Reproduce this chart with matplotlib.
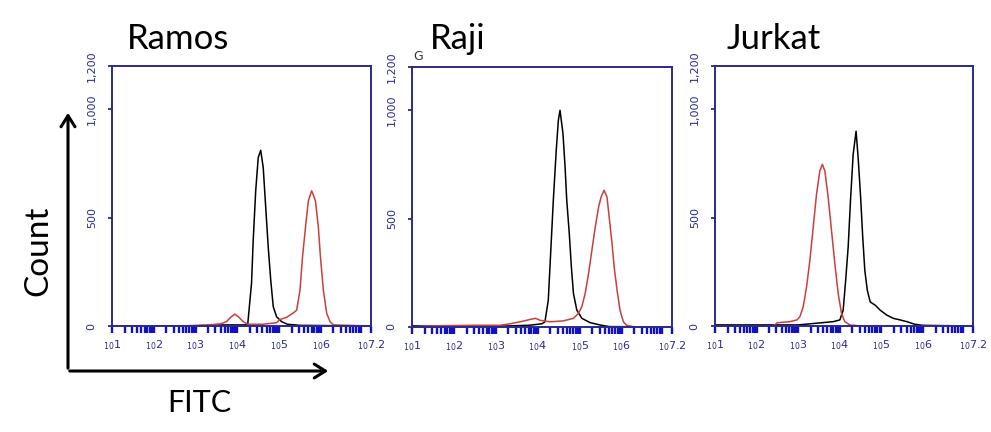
import numpy as np
import matplotlib
matplotlib.use("Agg")
import matplotlib.pyplot as plt
from matplotlib.ticker import LogLocator, FixedLocator, NullFormatter

# ---- data (log10 FITC, count) ----
panels = ["Ramos", "Raji", "Jurkat"]

ramos_black_logx = [1.0, 2.9, 3.5, 4.2, 4.25, 4.34, 4.38, 4.44, 4.50, 4.56, 4.62, 4.68, 4.74, 4.80, 4.86, 4.94, 5.06, 5.2, 5.5, 7.2]
ramos_black_cnt = [0, 0, 5, 5, 10, 197, 394, 624, 777, 811, 731, 547, 364, 211, 89, 43, 20, 8, 3, 0]
ramos_red_logx = [1.0, 2.6, 3.3, 3.6, 3.74, 3.84, 3.94, 4.04, 4.14, 4.25, 4.6, 4.94, 5.02, 5.10, 5.18, 5.26, 5.34, 5.42, 5.50, 5.56, 5.64, 5.70, 5.78, 5.87, 5.94, 5.99, 6.06, 6.14, 6.22, 6.3, 7.2]
ramos_red_cnt = [0, 0, 5, 10, 20, 40, 55, 40, 20, 8, 8, 15, 30, 35, 40, 50, 60, 73, 165, 318, 471, 578, 624, 578, 455, 318, 165, 58, 20, 5, 0]

raji_black_logx = [1.0, 2.0, 3.0, 3.8, 4.1, 4.17, 4.25, 4.31, 4.37, 4.44, 4.49, 4.53, 4.60, 4.65, 4.69, 4.75, 4.80, 4.85, 4.93, 5.05, 5.25, 5.49, 5.7, 7.2]
raji_black_cnt = [5, 5, 3, 8, 15, 24, 124, 355, 585, 816, 954, 1000, 893, 739, 585, 433, 278, 155, 78, 40, 20, 9, 2, 0]
raji_red_logx = [1.0, 1.3, 2.5, 3.1, 3.34, 3.58, 3.82, 3.95, 4.05, 4.29, 4.6, 4.85, 4.97, 5.05, 5.13, 5.21, 5.29, 5.37, 5.45, 5.51, 5.58, 5.65, 5.71, 5.77, 5.82, 5.89, 5.96, 6.04, 6.12, 6.3, 7.2]
raji_red_cnt = [0, 5, 8, 8, 15, 24, 35, 40, 31, 24, 28, 40, 63, 94, 155, 247, 355, 462, 554, 600, 631, 600, 493, 386, 278, 170, 78, 24, 8, 0, 0]

jurkat_black_logx = [1.0, 2.0, 3.0, 3.84, 4.0, 4.08, 4.14, 4.20, 4.26, 4.32, 4.39, 4.44, 4.50, 4.55, 4.60, 4.66, 4.73, 4.85, 4.97, 5.13, 5.29, 5.45, 5.61, 5.8, 6.0, 7.2]
jurkat_black_cnt = [5, 5, 5, 20, 28, 73, 211, 364, 593, 792, 899, 777, 593, 410, 257, 165, 111, 96, 73, 50, 35, 28, 20, 8, 3, 0]
jurkat_red_logx = [1.0, 2.4, 2.5, 2.8, 2.97, 3.04, 3.12, 3.20, 3.28, 3.36, 3.44, 3.52, 3.58, 3.64, 3.72, 3.80, 3.88, 3.96, 4.04, 4.12, 4.24, 4.5, 7.2]
jurkat_red_cnt = [0, 0, 15, 20, 28, 43, 89, 180, 303, 455, 609, 716, 746, 716, 593, 440, 288, 150, 58, 20, 5, 0, 0]

black_series = [(ramos_black_logx, ramos_black_cnt), (raji_black_logx, raji_black_cnt), (jurkat_black_logx, jurkat_black_cnt)]
red_series = [(ramos_red_logx, ramos_red_cnt), (raji_red_logx, raji_red_cnt), (jurkat_red_logx, jurkat_red_cnt)]

y_ticks = [0, 500, 1000, 1200]
y_ticklabels = ["0", "500", "1,000", "1,200"]
x_tick_exps = [1, 2, 3, 4, 5, 6, 7.2]
x_ticklabels = ["$_{10}$1", "$_{10}$2", "$_{10}$3", "$_{10}$4", "$_{10}$5", "$_{10}$6", "$_{10}$7.2"]

NAVY = "#2a2a8c"
BLUE = "#1010c8"
RED = "#c8403c"
TITLE_FONT = ["Lato", "DejaVu Sans"]

fig = plt.figure(figsize=(9.91, 4.32), dpi=100)
W, H = 991, 432
boxes = [(112, 371, 66, 326), (412, 672, 67, 327), (715, 973, 66, 326)]
title_x = [127, 430, 727]

for i, (l, r, t, b) in enumerate(boxes):
    ax = fig.add_axes([l / W, 1 - b / H, (r - l) / W, (b - t) / H])
    bx, by = black_series[i]
    rx, ry = red_series[i]
    ax.plot(10 ** np.array(bx), by, color="black", lw=1.1)
    ax.plot(10 ** np.array(rx), ry, color=RED, lw=1.1)
    ax.set_xscale("log")
    ax.set_xlim(10 ** 1, 10 ** 7.2)
    ax.set_ylim(0, 1200)
    for s in ax.spines.values():
        s.set_color(NAVY)
        s.set_linewidth(1.4)
    ax.xaxis.set_major_locator(FixedLocator([10 ** e for e in x_tick_exps]))
    ax.set_xticklabels(x_ticklabels)
    ax.xaxis.set_minor_locator(LogLocator(base=10, subs=np.arange(2, 10), numticks=20))
    ax.xaxis.set_minor_formatter(NullFormatter())
    ax.tick_params(axis="x", which="both", direction="out", length=5, width=1.7,
                   color=BLUE, labelsize=8, labelcolor=NAVY, pad=4)
    ax.set_yticks(y_ticks)
    ax.set_yticklabels(y_ticklabels, rotation=90, va="center")
    ax.tick_params(axis="y", which="major", direction="out", length=3, width=1.3,
                   color=NAVY, labelsize=8, labelcolor=NAVY, pad=8)
    fig.text(title_x[i] / W, 1 - 49 / H, panels[i], fontsize=25, family=TITLE_FONT,
             ha="left", va="baseline", color="black")

fig.text(418 / W, 1 - 56 / H, "G", fontsize=9, color="#333333", ha="center", va="center")

# axis arrows
fig.add_artist(matplotlib.patches.FancyArrowPatch((68 / W, 1 - 371 / H), (68 / W, 1 - 110 / H),
               transform=fig.transFigure, arrowstyle="->,head_length=8,head_width=5",
               color="black", lw=2.2, mutation_scale=1))
fig.add_artist(matplotlib.patches.FancyArrowPatch((67 / W, 1 - 371 / H), (331 / W, 1 - 371 / H),
               transform=fig.transFigure, arrowstyle="->,head_length=8,head_width=5",
               color="black", lw=2.2, mutation_scale=1))
fig.text(38 / W, 1 - 251 / H, "Count", rotation=90, fontsize=24, family=TITLE_FONT,
         ha="center", va="center")
fig.text(199 / W, 1 - 412 / H, "FITC", fontsize=22, family=TITLE_FONT,
         ha="center", va="baseline")

fig.savefig("out.png", dpi=100)
